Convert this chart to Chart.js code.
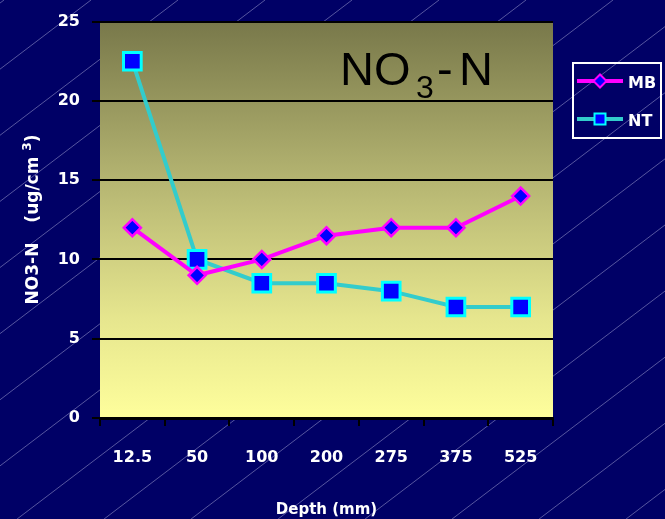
<!DOCTYPE html>
<html>
<head>
<meta charset="utf-8">
<title>NO3-N by depth</title>
<script src="https://cdn.jsdelivr.net/npm/chart.js@4/dist/chart.umd.min.js"></script>
<style>
  html, body { margin: 0; padding: 0; background: #000066; }
  #wrap { width: 665px; height: 519px; }
  canvas { display: block; }
</style>
</head>
<body>
<div id="wrap"><canvas id="chart" width="665" height="519"></canvas></div>
<script>
// Sampling depths (mm) along the x axis
const depths = ['12.5', '50', '100', '200', '275', '375', '525'];
// NO3-N concentration (ug/cm3) for each treatment
const mbValues = [12, 9, 10, 11.5, 12, 12, 14];
const ntValues = [22.5, 10, 8.5, 8.5, 8, 7, 7];
// Value axis range and step
const yMin = 0;
const yMax = 25;
const yStep = 5;

const NAVY = '#000066';
const MB_LINE = '#ff00ff';
const NT_LINE = '#33cccc';
const NT_EDGE = '#00ffff';
const MARKER_FILL = '#0000ff';
const FONT = 'DejaVu Sans';

// Page background with thin diagonal rules, and the shaded plot panel
const backdrop = {
  id: 'backdrop',
  beforeDraw(chart) {
    const ctx = chart.ctx;
    const W = chart.width, H = chart.height;
    ctx.save();
    ctx.fillStyle = NAVY;
    ctx.fillRect(0, 0, W, H);

    ctx.strokeStyle = 'rgba(190,190,230,0.45)';
    ctx.lineWidth = 1;
    const slope = 0.76, gap = 87;
    for (let x0 = 91 - gap * 2; x0 < W + H / slope + gap; x0 += gap) {
      ctx.beginPath();
      ctx.moveTo(x0, 0);
      ctx.lineTo(x0 - H / slope, H);
      ctx.stroke();
    }

    const a = chart.chartArea;
    const g = ctx.createLinearGradient(0, a.top, 0, a.bottom);
    g.addColorStop(0, '#78784a');
    g.addColorStop(0.45, '#bcbc76');
    g.addColorStop(0.75, '#e6e68e');
    g.addColorStop(1, '#fefe9c');
    ctx.fillStyle = g;
    ctx.fillRect(a.left, a.top, a.right - a.left, a.bottom - a.top);
    ctx.restore();
  }
};

function drawDiamond(ctx, x, y, r, fill, edge, lw) {
  ctx.beginPath();
  ctx.moveTo(x, y - r);
  ctx.lineTo(x + r, y);
  ctx.lineTo(x, y + r);
  ctx.lineTo(x - r, y);
  ctx.closePath();
  ctx.fillStyle = fill;
  ctx.fill();
  ctx.lineWidth = lw;
  ctx.strokeStyle = edge;
  ctx.stroke();
}

function drawSquare(ctx, x, y, half, fill, edge, lw) {
  ctx.fillStyle = fill;
  ctx.fillRect(x - half, y - half, half * 2, half * 2);
  ctx.lineWidth = lw;
  ctx.strokeStyle = edge;
  ctx.strokeRect(x - half, y - half, half * 2, half * 2);
}

// Axis titles, panel heading and the boxed key on the right
const annotations = {
  id: 'annotations',
  afterDraw(chart) {
    const ctx = chart.ctx;
    const a = chart.chartArea;
    ctx.save();

    // Panel heading: NO3-N with subscript 3
    ctx.fillStyle = '#000000';
    ctx.textBaseline = 'alphabetic';
    ctx.textAlign = 'left';
    const big = '47px "Liberation Sans", Arial, sans-serif';
    ctx.font = big;
    ctx.fillText('NO', 340, 85);
    ctx.font = '32px "Liberation Sans", Arial, sans-serif';
    ctx.fillText('3', 416, 98);
    ctx.font = big;
    ctx.fillText('-', 437, 85);
    ctx.fillText('N', 459, 85);

    // X axis title
    ctx.fillStyle = '#ffffff';
    ctx.textAlign = 'center';
    ctx.font = 'bold 15px "' + FONT + '"';
    ctx.fillText('Depth (mm)', (a.left + a.right) / 2, 514);

    // Y axis title, rotated, with superscript 3
    ctx.translate(38, 0);
    ctx.rotate(-Math.PI / 2);
    ctx.textAlign = 'left';
    ctx.font = 'bold 17px "' + FONT + '"';
    const part1 = 'NO3-N';
    const part2 = '(ug/cm ';
    const part3 = ')';
    const w1 = ctx.measureText(part1).width;
    const w2 = ctx.measureText(part2).width;
    const w3 = ctx.measureText(part3).width;
    ctx.font = 'bold 12px "' + FONT + '"';
    const ws = ctx.measureText('3').width;
    const gapW = 20;
    const total = w1 + gapW + w2 + ws + w3;
    let t = -((307 + 132) / 2) - total / 2;
    ctx.font = 'bold 17px "' + FONT + '"';
    ctx.fillText(part1, t, 0);
    t += w1 + gapW;
    ctx.fillText(part2, t, 0);
    t += w2;
    ctx.font = 'bold 12px "' + FONT + '"';
    ctx.fillText('3', t, -7);
    t += ws;
    ctx.font = 'bold 17px "' + FONT + '"';
    ctx.fillText(part3, t, 0);
    ctx.setTransform(1, 0, 0, 1, 0, 0);

    // Key
    ctx.strokeStyle = '#ffffff';
    ctx.lineWidth = 2;
    ctx.strokeRect(573, 63, 88, 75);
    ctx.lineCap = 'butt';
    ctx.lineWidth = 4;
    ctx.strokeStyle = MB_LINE;
    ctx.beginPath(); ctx.moveTo(577, 81); ctx.lineTo(623, 81); ctx.stroke();
    drawDiamond(ctx, 600, 81, 6.5, MARKER_FILL, MB_LINE, 2);
    ctx.lineWidth = 4;
    ctx.strokeStyle = NT_LINE;
    ctx.beginPath(); ctx.moveTo(577, 119); ctx.lineTo(623, 119); ctx.stroke();
    drawSquare(ctx, 600, 119, 5.5, MARKER_FILL, NT_EDGE, 2);

    ctx.fillStyle = '#ffffff';
    ctx.textAlign = 'left';
    ctx.textBaseline = 'alphabetic';
    ctx.font = 'bold 16px "' + FONT + '"';
    ctx.fillText('MB', 628, 88);
    ctx.fillText('NT', 628, 126);
    ctx.restore();
  }
};

Chart.defaults.font.family = FONT;

new Chart(document.getElementById('chart'), {
  type: 'line',
  data: {
    labels: depths,
    datasets: [
      {
        label: 'MB',
        data: mbValues,
        borderColor: MB_LINE,
        borderWidth: 4,
        tension: 0,
        pointStyle: 'rectRot',
        pointRadius: 8.5,
        pointBorderWidth: 2.5,
        pointBackgroundColor: MARKER_FILL,
        pointBorderColor: MB_LINE
      },
      {
        label: 'NT',
        data: ntValues,
        borderColor: NT_LINE,
        borderWidth: 4,
        tension: 0,
        pointStyle: 'rect',
        pointRadius: 12.5,
        pointBorderWidth: 3,
        pointBackgroundColor: MARKER_FILL,
        pointBorderColor: NT_EDGE
      }
    ]
  },
  options: {
    responsive: false,
    animation: false,
    events: [],
    layout: { padding: { left: 0, right: 112, top: 17, bottom: 0 } },
    plugins: {
      legend: { display: false },
      tooltip: { enabled: false },
      title: { display: false }
    },
    scales: {
      x: {
        type: 'category',
        offset: true,
        afterFit(scale) { scale.height = 101; },
        grid: {
          display: true,
          offset: true,
          drawOnChartArea: false,
          drawTicks: true,
          tickLength: 8,
          color: '#000000',
          lineWidth: 2
        },
        border: { display: true, color: '#000000', width: 3 },
        ticks: {
          color: '#ffffff',
          padding: 22,
          maxRotation: 0,
          autoSkip: false,
          font: { family: FONT, weight: 'bold', size: 16 }
        }
      },
      y: {
        min: yMin,
        max: yMax,
        afterFit(scale) { scale.width = 100; },
        grid: {
          color: '#000000',
          lineWidth: 2,
          drawTicks: true,
          tickLength: 8
        },
        border: { display: false },
        ticks: {
          stepSize: yStep,
          color: '#ffffff',
          padding: 12,
          font: { family: FONT, weight: 'bold', size: 16 }
        }
      }
    }
  },
  plugins: [backdrop, annotations]
});
</script>
</body>
</html>
